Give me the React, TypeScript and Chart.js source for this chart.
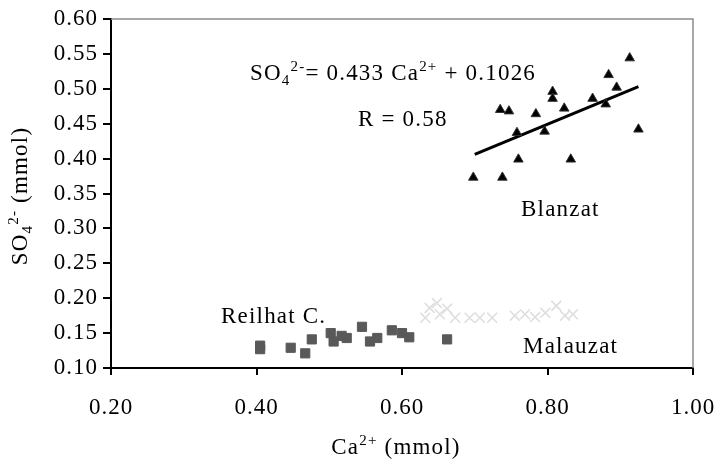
import React, { useEffect, useRef } from 'react';
import { Chart, registerables } from 'chart.js';

Chart.register(...registerables);

// Blanzat (triangles)
const blanzatCa = [0.698, 0.738, 0.760, 0.735, 0.747, 0.758, 0.784, 0.796, 0.807, 0.807, 0.823, 0.832, 0.862, 0.880, 0.884, 0.895, 0.913, 0.925];
const blanzatSO4 = [0.373, 0.373, 0.399, 0.470, 0.468, 0.437, 0.464, 0.439, 0.496, 0.486, 0.472, 0.399, 0.486, 0.478, 0.520, 0.502, 0.544, 0.442];

// Reilhat C. (squares)
const reilhatCa = [0.405, 0.405, 0.447, 0.467, 0.476, 0.502, 0.506, 0.517, 0.524, 0.545, 0.556, 0.566, 0.586, 0.600, 0.610, 0.662];
const reilhatSO4 = [0.127, 0.132, 0.129, 0.121, 0.141, 0.150, 0.138, 0.146, 0.143, 0.159, 0.138, 0.143, 0.154, 0.150, 0.144, 0.141];

// Malauzat (light crosses)
const malauzatCa = [0.632, 0.638, 0.648, 0.652, 0.662, 0.673, 0.693, 0.707, 0.724, 0.755, 0.769, 0.783, 0.797, 0.812, 0.824, 0.835];
const malauzatSO4 = [0.172, 0.186, 0.193, 0.177, 0.185, 0.172, 0.172, 0.172, 0.172, 0.175, 0.177, 0.173, 0.179, 0.189, 0.175, 0.177];

// Trend line endpoints (Blanzat)
const trendCa = [0.700, 0.925];
const trendSO4 = [0.406, 0.503];

const xTickMin = 0.2;
const xTickMax = 1.0;
const xTickStep = 0.2;
const yTickMin = 0.1;
const yTickMax = 0.6;
const yTickStep = 0.05;

const FONT = '"Liberation Serif", "Times New Roman", serif';
const MAIN = 23;
const SMALL = 15;

type Seg = [string, 'n' | 'sub' | 'sup'];

function segFont(t: string) {
  return `${t === 'n' ? MAIN : SMALL}px ${FONT}`;
}

function richWidth(ctx: CanvasRenderingContext2D, segs: Seg[]) {
  let w = 0;
  for (const [s, t] of segs) {
    ctx.font = segFont(t);
    w += ctx.measureText(s).width;
  }
  return w;
}

function drawRich(ctx: CanvasRenderingContext2D, segs: Seg[], x: number, y: number, align: 'left' | 'center' = 'left') {
  let cx = x;
  if (align === 'center') cx = x - richWidth(ctx, segs) / 2;
  ctx.textAlign = 'left';
  ctx.textBaseline = 'alphabetic';
  for (const [s, t] of segs) {
    ctx.font = segFont(t);
    const dy = t === 'sup' ? -9 : t === 'sub' ? 5 : 0;
    ctx.fillText(s, cx, y + dy);
    cx += ctx.measureText(s).width;
  }
}

const toPts = (xs: number[], ys: number[]) => xs.map((x, i) => ({ x, y: ys[i] }));

const decorPlugin = {
  id: 'decor',
  beforeDraw(chart: any) {
    const ctx = chart.ctx as CanvasRenderingContext2D;
    (ctx as any).letterSpacing = '1px';
  },
  beforeDatasetsDraw(chart: any) {
    const ctx = chart.ctx as CanvasRenderingContext2D;
    const a = chart.chartArea;
    ctx.save();
    ctx.strokeStyle = '#8c8c8c';
    ctx.lineWidth = 1.5;
    ctx.beginPath();
    ctx.moveTo(a.left, a.top);
    ctx.lineTo(a.right, a.top);
    ctx.lineTo(a.right, a.bottom);
    ctx.stroke();
    ctx.restore();
  },
  afterDraw(chart: any) {
    const ctx = chart.ctx as CanvasRenderingContext2D;
    ctx.save();
    (ctx as any).letterSpacing = '1.2px';
    ctx.fillStyle = '#000';
    drawRich(ctx, [['SO', 'n'], ['4', 'sub'], ['2-', 'sup'], ['= 0.433 Ca', 'n'], ['2+', 'sup'], [' + 0.1026', 'n']], 250, 80);
    drawRich(ctx, [['R = 0.58', 'n']], 358, 126);
    drawRich(ctx, [['Blanzat', 'n']], 521, 216);
    drawRich(ctx, [['Reilhat C.', 'n']], 221, 323);
    drawRich(ctx, [['Malauzat', 'n']], 523, 353);
    // x title
    drawRich(ctx, [['Ca', 'n'], ['2+', 'sup'], [' (mmol)', 'n']], 396, 454, 'center');
    // y title
    ctx.translate(27, 196);
    ctx.rotate(-Math.PI / 2);
    drawRich(ctx, [['SO', 'n'], ['4', 'sub'], ['2-', 'sup'], [' (mmol)', 'n']], 0, 0, 'center');
    ctx.restore();
  },
};

export default function App() {
  const ref = useRef<HTMLCanvasElement>(null);
  useEffect(() => {
    document.body.style.margin = '0';
    const canvas = ref.current!;
    const chart = new Chart(canvas, {
      type: 'scatter',
      data: {
        datasets: [
          {
            label: 'Malauzat',
            data: toPts(malauzatCa, malauzatSO4),
            pointStyle: 'crossRot',
            pointRadius: 7,
            borderColor: '#dedede',
            backgroundColor: '#dedede',
            pointBorderWidth: 1.6,
          },
          {
            label: 'Reilhat C.',
            data: toPts(reilhatCa, reilhatSO4),
            pointStyle: 'rect',
            pointRadius: 6.5,
            borderColor: '#595959',
            backgroundColor: '#595959',
            pointBorderWidth: 1,
          },
          {
            label: 'Blanzat',
            data: toPts(blanzatCa, blanzatSO4),
            pointStyle: 'triangle',
            pointRadius: 5.5,
            borderColor: '#333',
            backgroundColor: '#000',
            pointBorderWidth: 1,
          },
          {
            type: 'line',
            label: 'trend',
            data: toPts(trendCa, trendSO4),
            borderColor: '#000',
            borderWidth: 3,
            pointRadius: 0,
            showLine: true,
            fill: false,
          } as any,
        ],
      },
      options: {
        responsive: false,
        animation: false,
        events: [],
        layout: { padding: { top: 19, right: 25, left: 0, bottom: 0 } },
        plugins: { legend: { display: false }, tooltip: { enabled: false } },
        scales: {
          x: {
            type: 'linear',
            min: xTickMin,
            max: xTickMax,
            afterFit: (s: any) => { s.height = 100; s.paddingLeft = 0; s.paddingRight = 0; },
            ticks: {
              stepSize: xTickStep,
              callback: (v: any) => Number(v).toFixed(2),
              color: '#000',
              font: { family: FONT, size: MAIN },
              padding: 19,
              maxRotation: 0,
            },
            grid: { drawOnChartArea: false, drawTicks: true, tickLength: 7, color: '#000', lineWidth: 2 },
            border: { display: true, color: '#000', width: 2 },
          },
          y: {
            type: 'linear',
            min: yTickMin,
            max: yTickMax,
            afterFit: (s: any) => { s.width = 111; s.paddingTop = 0; s.paddingBottom = 0; },
            ticks: {
              stepSize: yTickStep,
              callback: (v: any) => Number(v).toFixed(2),
              color: '#000',
              font: { family: FONT, size: MAIN },
              padding: 5,
            },
            grid: { drawOnChartArea: false, drawTicks: true, tickLength: 8, color: '#000', lineWidth: 2 },
            border: { display: true, color: '#000', width: 2 },
          },
        },
      },
      plugins: [decorPlugin],
    });
    return () => chart.destroy();
  }, []);
  return <canvas ref={ref} width={718} height={468} style={{ display: 'block' }} />;
}
